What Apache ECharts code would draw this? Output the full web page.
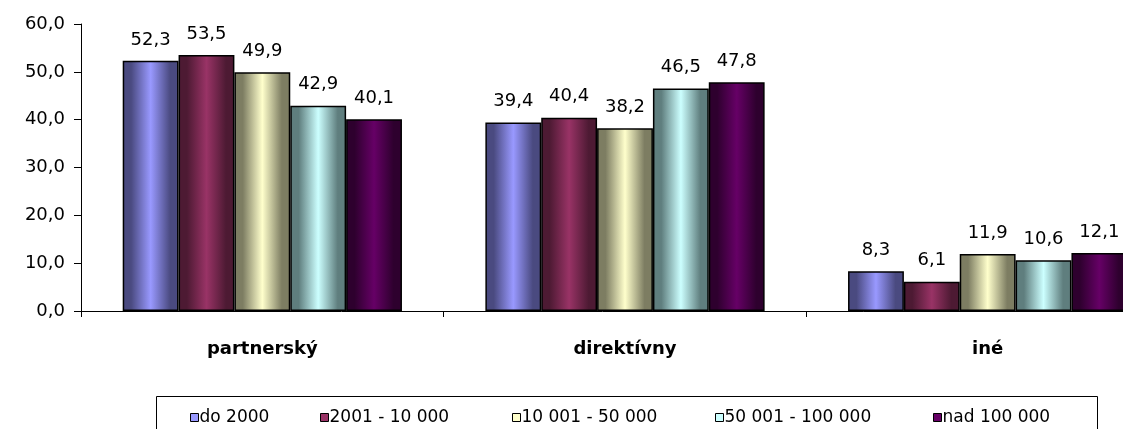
<!DOCTYPE html>
<html>
<head>
<meta charset="utf-8">
<script src="https://cdn.jsdelivr.net/npm/echarts@6/dist/echarts.min.js"></script>
<style>html,body{margin:0;padding:0;background:#fff}#c{width:1123px;height:429px}</style>
</head>
<body>
<div id="c"></div>
<script>
const categories = ['partnerský', 'direktívny', 'iné'];
const seriesNames = ['do 2000', '2001 - 10 000', '10 001 - 50 000', '50 001 - 100 000', 'nad 100 000'];
const doDva = [52.3, 39.4, 8.3];
const dvaDesat = [53.5, 40.4, 6.1];
const desatPat = [49.9, 38.2, 11.9];
const patSto = [42.9, 46.5, 10.6];
const nadSto = [40.1, 47.8, 12.1];
const yTicks = [0, 10, 20, 30, 40, 50, 60];

const values = [doDva, dvaDesat, desatPat, patSto, nadSto];
const lightColors = ['#9999ff', '#993366', '#ffffcc', '#ccffff', '#660066'];
const darkColors = ['#4a4a80', '#4d1a33', '#7d7d62', '#5f7e7e', '#2e002e'];
const legendLeft = [190, 320, 512, 715, 933];

const font = 'DejaVu Sans';

const chart = echarts.init(document.getElementById('c'), null, {renderer: 'canvas'});

const series = seriesNames.map((n, i) => ({
  name: n,
  type: 'bar',
  data: values[i],
  barCategoryGap: '23%',
  barGap: '0%',
  itemStyle: {
    color: new echarts.graphic.LinearGradient(0, 0, 1, 0, [
      {offset: 0, color: darkColors[i]},
      {offset: 0.15, color: darkColors[i]},
      {offset: 0.5, color: lightColors[i]},
      {offset: 0.85, color: darkColors[i]},
      {offset: 1, color: darkColors[i]}
    ]),
    borderColor: '#000',
    borderWidth: 1.5
  },
  label: {
    show: true,
    position: 'top',
    distance: 12,
    color: '#000',
    fontFamily: font,
    fontSize: 18,
    formatter: p => p.value.toFixed(1).replace('.', ',')
  }
}));

const legends = seriesNames.map((n, i) => ({
  left: legendLeft[i],
  top: 409,
  padding: 0,
  itemWidth: 8,
  itemHeight: 8,
  icon: 'rect',
  data: [{name: n, itemStyle: {color: lightColors[i], borderColor: '#000', borderWidth: 1}}],
  textStyle: {fontFamily: font, fontSize: 17, color: '#000', padding: [0, 0, 0, -4]}
}));

chart.setOption({
  animation: false,
  backgroundColor: '#fff',
  grid: {left: 81, top: 24, bottom: 118, width: 1088, outerBoundsMode: 'none', containLabel: false},
  legend: legends,
  graphic: [{
    type: 'rect',
    shape: {x: 156.5, y: 396.5, width: 941, height: 60},
    style: {fill: 'none', stroke: '#000', lineWidth: 1},
    z: -1
  }],
  xAxis: {
    type: 'category',
    data: categories,
    axisLine: {lineStyle: {color: '#000', width: 1}},
    axisTick: {show: true, length: 6, lineStyle: {color: '#000'}},
    axisLabel: {fontFamily: font, fontSize: 18, fontWeight: 'bold', color: '#000', margin: 29}
  },
  yAxis: {
    type: 'value',
    min: yTicks[0],
    max: yTicks[yTicks.length - 1],
    interval: 10,
    splitLine: {show: false},
    axisLine: {show: true, lineStyle: {color: '#000', width: 1}},
    axisTick: {show: true, length: 7, lineStyle: {color: '#000'}},
    axisLabel: {fontFamily: font, fontSize: 18, color: '#000', margin: 16,
      formatter: v => v.toFixed(1).replace('.', ',')}
  },
  series: series
});
</script>
</body>
</html>
